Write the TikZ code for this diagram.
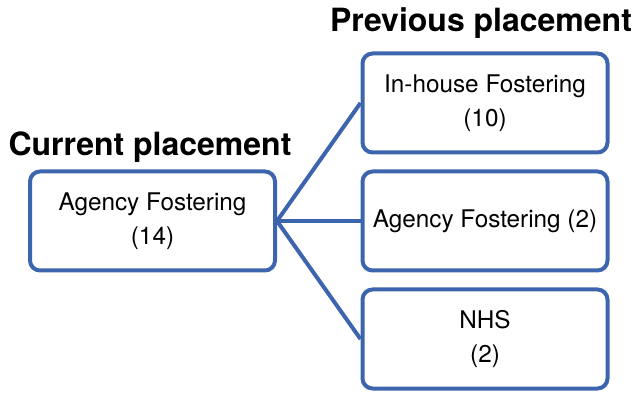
\documentclass[tikz,border=0pt]{standalone}
\usepackage{fontspec}
\setmainfont{TeX Gyre Heros}
\usepackage{xcolor}
\usepackage{tikz}
\usetikzlibrary{backgrounds}
\definecolor{pb}{HTML}{3D65AE}
\tikzset{
  place/.style={draw=pb, line width=4pt, rounded corners=10pt, fill=white, align=center,
    minimum width=245pt, minimum height=99pt, inner sep=0pt, font=\fontsize{24.3}{34}\selectfont},
  head/.style={font=\fontsize{32}{36}\selectfont\bfseries, anchor=base, inner sep=0pt},
  link/.style={draw=pb, line width=4pt},
}
\begin{document}
\begin{tikzpicture}[x=1pt,y=1pt]
  \useasboundingbox (0,0) rectangle (644,393);
  \node[head] (cur) at (150,237) {Current placement};
  \node[head] (prev) at (481,361) {Previous placement};
  \node[place] (now) at (152.5,172) {Agency Fostering\\(14)};
  \node[place] (inh) at (485,290) {In-house Fostering\\(10)};
  \node[place] (agf) at (485,172) {Agency Fostering (2)};
  \node[place] (nhs) at (485,54) {NHS\\(2)};
  % links between placements
  \begin{scope}[on background layer]
    \draw[link] (now.east) -- (inh.west);
    \draw[link] (now.east) -- (agf.west);
    \draw[link] (now.east) -- (nhs.west);
  \end{scope}
\end{tikzpicture}
\end{document}
